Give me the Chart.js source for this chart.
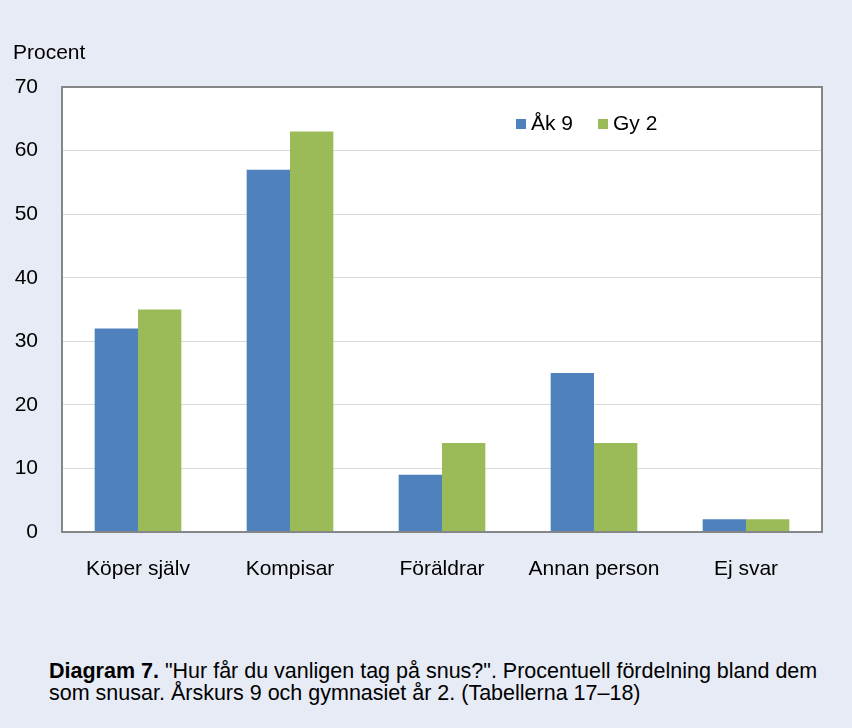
<!DOCTYPE html>
<html>
<head>
<meta charset="utf-8">
<script src="https://cdn.jsdelivr.net/npm/chart.js@4"></script>
<style>
  body { margin: 0; background: #e7ebf5; font-family: "Liberation Sans", Arial, sans-serif; }
  #wrap { position: relative; width: 852px; height: 728px; }
  #chartBox { position: absolute; left: 0; top: 0; width: 852px; height: 600px; }
  #ylabel { position: absolute; left: 13px; top: 40px; font-size: 21px; line-height: 24px; color: #000; }
  #caption { position: absolute; left: 49px; top: 660px; width: 800px; font-size: 21.5px; line-height: 22px; color: #000; }
</style>
</head>
<body>
<div id="wrap">
  <div id="chartBox"><canvas id="chart"></canvas></div>
  <div id="ylabel">Procent</div>
  <div id="caption"><b>Diagram 7.</b> "Hur får du vanligen tag på snus?". Procentuell fördelning bland dem<br>som snusar. Årskurs 9 och gymnasiet år 2. (Tabellerna 17–18)</div>
</div>
<script>
const categories = ["Köper själv", "Kompisar", "Föräldrar", "Annan person", "Ej svar"];
const ak9 = [32, 57, 9, 25, 2];
const gy2 = [35, 63, 14, 14, 2];
const seriesNames = ["Åk 9", "Gy 2"];
const yTicks = [0, 10, 20, 30, 40, 50, 60, 70];

const FONT = "'Liberation Sans', Arial, sans-serif";

// white plot area, grey frame and a legend inside the plot
const plotFrame = {
    id: "plotFrame",
    beforeDraw(chart) {
        const { ctx, chartArea: a } = chart;
        ctx.save();
        ctx.fillStyle = "#ffffff";
        ctx.fillRect(a.left, a.top, a.right - a.left, a.bottom - a.top);
        ctx.restore();
    },
    afterDatasetsDraw(chart) {
        const { ctx, chartArea: a } = chart;
        ctx.save();
        ctx.strokeStyle = "#868686";
        ctx.lineWidth = 2;
        ctx.strokeRect(a.left, a.top, a.right - a.left, a.bottom - a.top);

        // legend
        ctx.font = "21px " + FONT;
        ctx.textBaseline = "middle";
        let x = 516;
        const y = 124;
        chart.data.datasets.forEach((ds) => {
            ctx.fillStyle = ds.backgroundColor;
            ctx.fillRect(x, y - 5, 10, 10);
            ctx.fillStyle = "#000";
            ctx.fillText(ds.label, x + 15, y);
            x += 15 + ctx.measureText(ds.label).width + 25;
        });
        ctx.restore();
    },
};

new Chart(document.getElementById("chart"), {
    type: "bar",
    data: {
        labels: categories,
        datasets: [
            { label: seriesNames[0], data: ak9, backgroundColor: "#4f81bd" },
            { label: seriesNames[1], data: gy2, backgroundColor: "#9bbb59" },
        ],
    },
    options: {
        responsive: true,
        maintainAspectRatio: false,
        animation: false,
        layout: { padding: { top: 87, right: 30, left: 0, bottom: 0 } },
        categoryPercentage: 0.57,
        barPercentage: 1.0,
        plugins: {
            legend: { display: false },
            tooltip: { enabled: false },
        },
        scales: {
            x: {
                grid: { display: false },
                border: { display: false },
                ticks: {
                    color: "#000",
                    font: { size: 21, family: FONT },
                    padding: 17,
                    maxRotation: 0,
                },
                afterFit: (scale) => { scale.height = 68; },
            },
            y: {
                min: 0,
                max: 70,
                afterBuildTicks: (scale) => { scale.ticks = yTicks.map((v) => ({ value: v })); },
                grid: { color: "#d9d9d9", lineWidth: 1, drawTicks: false },
                border: { display: false },
                ticks: {
                    color: "#000",
                    font: { size: 21, family: FONT },
                    padding: 24,
                },
                afterFit: (scale) => { scale.width = 62; },
            },
        },
    },
    plugins: [plotFrame],
});
</script>
</body>
</html>
